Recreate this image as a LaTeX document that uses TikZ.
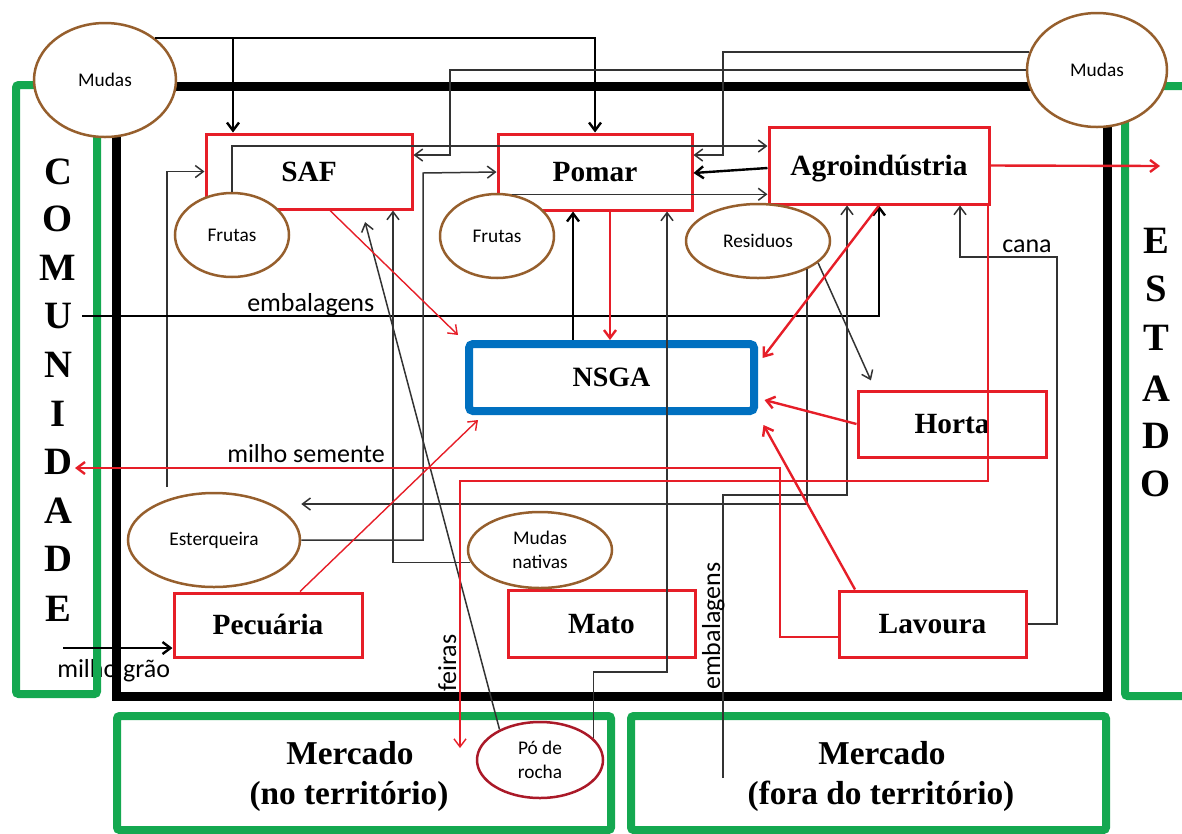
\documentclass[tikz,border=0pt]{standalone}
\usepackage{fontspec}
\setmainfont{Liberation Serif}
\newfontfamily\carl{Carlito}
\usetikzlibrary{shapes.geometric,arrows.meta,calc}
\newdimen\pxu \pxu=0.75pt
\definecolor{boxred}{RGB}{230,30,40}
\definecolor{gr}{RGB}{20,168,80}
\definecolor{nblue}{RGB}{0,112,192}
\definecolor{brn}{RGB}{150,95,45}
\definecolor{pored}{RGB}{170,25,40}
\tikzset{
 terrframe/.style={draw=black, line width=9\pxu, inner sep=0},
 gbox/.style={draw=gr, line width=8\pxu, rounded corners=2pt, inner sep=0},
 box/.style={draw=boxred, line width=3\pxu, inner sep=0, text height=14.5pt, text depth=0pt, font=\bfseries\fontsize{22}{26}\selectfont},
 nbox/.style={draw=nblue, line width=8\pxu, rounded corners=3pt, inner sep=0, text height=14pt, text depth=0pt, font=\bfseries\fontsize{21}{25}\selectfont},
 ell/.style={ellipse, draw=brn, line width=2.5\pxu, fill=white, inner sep=0, align=center, font=\carl\fontsize{14.5}{18}\selectfont},
 lab/.style={inner sep=0, font=\carl\fontsize{19.5}{22}\selectfont},
 letter/.style={inner sep=0, anchor=base, font=\bfseries\fontsize{29}{30}\selectfont},
 mtext/.style={inner sep=0, anchor=base, font=\bfseries\fontsize{25}{30}\selectfont},
 ln/.style={line width=1.5\pxu, draw=black!80},
 thk/.style={line width=2.4\pxu, draw=black},
 rln/.style={line width=2.4\pxu, draw=boxred},
 rthin/.style={line width=1.4\pxu, draw=boxred},
 ar/.style={-{Straight Barb[length=6pt,width=9pt]}},
}
\begin{document}
\begin{tikzpicture}[x=0.75pt,y=-0.75pt]
\useasboundingbox (0,0) rectangle (1182,833);
\clip (0,0) rectangle (1182,833);

% label crossed by the frame
\node[lab, anchor=base west] (lMG) at (57,677) {milho grão};

% frames
\node[terrframe, minimum width=991\pxu, minimum height=610\pxu] (terr) at (611.5,391) {};
\node[gbox, minimum width=81\pxu, minimum height=609\pxu] (com) at (56.5,389.5) {};
\node[gbox, minimum width=75\pxu, minimum height=610\pxu] (est) at (1162.5,391) {};
\node[gbox, minimum width=494\pxu, minimum height=114\pxu] (mno) at (364,773) {};
\node[gbox, minimum width=475\pxu, minimum height=114\pxu] (mfo) at (868.5,773) {};

% vertical words
\foreach \l/\y [count=\i] in {C/171,O/218,M/267,U/315,N/364,I/413,D/461,A/510,D/558,E/608}
  \node[letter] (cl\i) at (58,\y+13) {\l};
\foreach \l/\y [count=\i] in {E/240,S/288,T/337,A/388,D/435,O/483}
  \node[letter] (el\i) at (1156,\y+13) {\l};

% market texts
\node[mtext] (mnoT1) at (350,764) {Mercado};
\node[mtext] (mnoT2) at (349,804) {(no território)};
\node[mtext] (mfoT1) at (882,764) {Mercado};
\node[mtext] (mfoT2) at (881,804) {(fora do território)};

% boxes
\node[box, minimum width=206\pxu, minimum height=75\pxu] (saf) at (309,171.5) {SAF};
\node[box, minimum width=194\pxu, minimum height=76\pxu] (pomar) at (595,172) {Pomar};
\node[box, minimum width=220\pxu, minimum height=77\pxu] (agro) at (879,165.5) {Agroindústria};
\node[nbox, minimum width=285\pxu, minimum height=67\pxu] (nsga) at (611.5,377.5) {NSGA};
\node[box, minimum width=188\pxu, minimum height=66\pxu] (horta) at (952,424) {Horta};
\node[box, minimum width=188\pxu, minimum height=64\pxu] (pec) at (268,625) {Pecuária};
\node[box, minimum width=187\pxu, minimum height=67\pxu] (mato) at (601.5,623.5) {Mato};
\node[box, minimum width=187\pxu, minimum height=66\pxu] (lav) at (932.5,624) {Lavoura};

% ellipses
\node[ell, minimum width=142\pxu, minimum height=114\pxu] (mudasL) at (105,80) {Mudas};
\node[ell, minimum width=140\pxu, minimum height=114\pxu] (mudasR) at (1097,70) {Mudas};
\node[ell, minimum width=114\pxu, minimum height=84\pxu] (frutasS) at (232,235) {Frutas};
\node[ell, minimum width=114\pxu, minimum height=84\pxu] (frutasP) at (497,236) {Frutas};
\node[ell, minimum width=144\pxu, minimum height=74\pxu] (resid) at (758,241) {Residuos};
\node[ell, minimum width=172\pxu, minimum height=94\pxu] (ester) at (214,540) {Esterqueira};
\node[ell, minimum width=144\pxu, minimum height=76\pxu] (mnat) at (540,550) {Mudas\\nativas};
\node[ell, draw=pored, minimum width=126\pxu, minimum height=76\pxu] (po) at (540,760) {Pó de\\rocha};

% free ends
\coordinate (esTop) at (167,487);
\coordinate (comEmb) at (82,316);
\coordinate (comMS) at (75,468);
\coordinate (feirasEnd) at (460,748);
\coordinate (estArr) at (1160,166);
\coordinate (mfEmb) at (723,778);
\coordinate (mgStart) at (63,648);

% black connectors
\draw[thk,ar] (mudasL.40) -| (pomar.north);
\draw[thk,ar] (mudasL.40 -| 233,0) -- (saf.north -| 233,0);
\draw[ln,ar] (mudasR.165) -| (723,155) -- (pomar.east |- 0,155);
\draw[ln,ar] (mudasR.west) -| (450,155) -- (saf.east |- 0,155);
\draw[ln,ar] (frutasS.north) |- (agro.west |- 0,146);
\draw[thk,ar] (agro.west |- 0,168) -- (pomar.east |- 0,173);
\draw[ln,ar] (frutasP.70) -- (frutasP.70 -| agro.west);
\draw[ln,ar] (esTop) |- (saf.west);
\draw[thk,ar] (comEmb) -| (agro.south);
\draw[ln,ar] (resid.-30) |- (ester.east |- 0,504);
\draw[ln,ar] (mfEmb) |- (847,495) -- (agro.south -| 847,0);
\draw[ln,ar,shorten >=10\pxu] (resid.-20) -- (horta.north -| 875,0);
\draw[ln,ar] (lav.east) -| (1057,257) -| (agro.south -| 960,0);
\draw[thk,ar] (nsga.north -| 573,0) -- (pomar.south -| 573,0);
\draw[ln,ar] (po.22) |- (667,672) -- (pomar.south -| 667,0);
\draw[ln,ar] (mnat.190) -| (saf.south -| 393,0);
\draw[ln,ar] (ester.east) -| (423,173) -- (pomar.west);
\draw[ln,ar,shorten >=12\pxu] (po.143) -- (saf.south -| 362,0);
\draw[thk,ar] (mgStart) -- (pec.west |- 0,648);

% red connectors
\draw[rln,ar] (lav.west |- 0,637) -| (780,468) -- (comMS);
\draw[rthin,ar] (agro.south -| 988,0) |- (460,481) -- (feirasEnd);
\draw[rln,ar] (agro.east) -- (estArr);
\draw[rln,ar] (pomar.south -| 610,0) -- (nsga.north -| 610,0);
\draw[rthin,ar] (saf.south -| 330,0) -- ($(nsga.north west)+(-7,-5)$);
\draw[rthin,ar] (pec.north -| 300,0) -- ($(nsga.south west)+(13,5)$);
\draw[rln,ar] (agro.south) -- ($(nsga.east)+(4.5,-19.5)$);
\draw[rln,ar] (horta.west) -- ($(nsga.east)+(6.5,22.5)$);
\draw[rln,ar] (lav.north -| 855,0) -- ($(nsga.east)+(5.5,47.5)$);

% labels
\node[lab, anchor=base west] (lEmb) at (247,311) {embalagens};
\node[lab, anchor=base west] (lMS) at (227,462) {milho semente};
\node[lab, anchor=base west] (lCana) at (1002,252) {cana};
\node[lab, rotate=90, anchor=base west] (lFeiras) at (456,692) {feiras};
\node[lab, rotate=90, anchor=base west] (lEmb2) at (720,690) {embalagens};
\end{tikzpicture}
\end{document}
